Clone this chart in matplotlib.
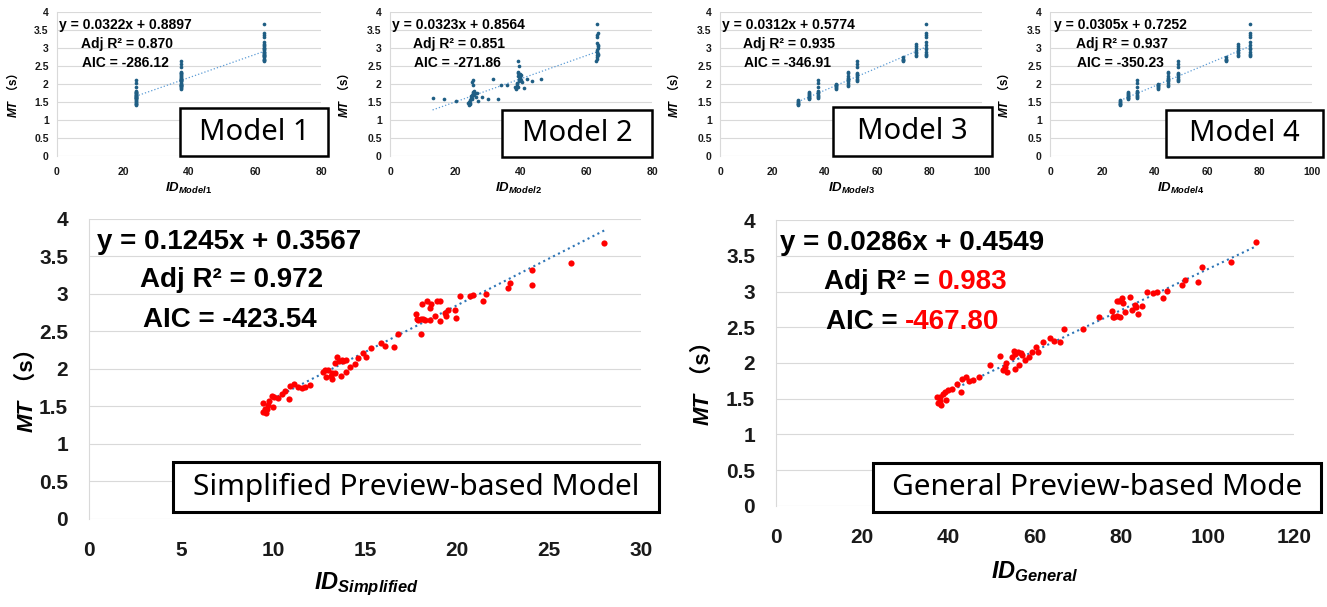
import numpy as np
import matplotlib
matplotlib.use('Agg')
import matplotlib.pyplot as plt
from matplotlib.patches import Rectangle
from matplotlib.ticker import FuncFormatter, MultipleLocator

plt.rcParams['font.family'] = ['Liberation Sans', 'Noto Sans CJK JP', 'DejaVu Sans']
plt.rcParams['mathtext.fontset'] = 'custom'
plt.rcParams['mathtext.it'] = 'Liberation Sans:italic:bold'
plt.rcParams['mathtext.rm'] = 'Liberation Sans:bold'
plt.rcParams['mathtext.bf'] = 'Liberation Sans:bold'

# MT values of the nine conditions (top panels)
mt_groups = [
    [1.41, 1.43, 1.45, 1.47, 1.49, 1.52, 1.54],
    [1.57, 1.60, 1.62, 1.64, 1.66, 1.70, 1.73, 1.76, 1.78],
    [1.60, 1.63, 1.66, 1.70, 1.75, 1.77, 1.80, 1.93, 2.02, 2.10],
    [1.86, 1.89, 1.91, 1.94, 1.96, 1.98, 2.00],
    [1.94, 1.97, 2.03, 2.07, 2.10, 2.13, 2.16, 2.22, 2.30, 2.34],
    [2.07, 2.12, 2.15, 2.20, 2.24, 2.28, 2.31, 2.47, 2.56, 2.65],
    [2.64, 2.66, 2.68, 2.71, 2.74],
    [2.79, 2.82, 2.86, 2.90, 2.94, 3.00, 3.07, 3.12],
    [2.77, 2.80, 2.84, 2.90, 2.97, 3.00, 3.08, 3.16, 3.31, 3.38, 3.43, 3.68],
]
id_model1 = [23.8, 23.8, 23.8, 37.7, 37.7, 37.7, 62.8, 62.8, 62.8]
id_model3 = [29.7, 34.0, 37.3, 44.2, 48.7, 52.2, 69.7, 74.8, 78.7]
id_model4 = [26.8, 29.9, 33.1, 41.1, 45.0, 48.7, 67.1, 71.6, 76.2]

model2_id = [13.0, 16.5, 20.2, 28.0, 29.8, 31.6, 32.9, 33.8, 35.7, 38.2, 40.8, 41.8, 43.3, 46.1,
             23.7, 24.0, 24.2, 24.3, 24.5, 24.6, 24.8, 25.0, 25.0, 25.1, 25.2, 25.3, 25.3, 25.4,
             25.5, 25.6, 25.8, 26.0, 26.3, 26.5, 26.8, 24.4, 24.9,
             38.5, 38.6, 38.7, 38.8, 38.9, 39.0, 39.1, 39.2, 39.2, 39.3, 39.4, 39.5, 39.6, 39.7,
             39.8, 39.9, 40.0, 40.2, 39.0,
             63.0, 63.1, 63.2, 63.3, 63.4, 63.2, 63.3, 63.5, 63.4, 63.5, 63.2, 63.3, 63.3, 63.4,
             63.3, 63.6, 63.1]
model2_mt = [1.62, 1.57, 1.53, 1.64, 1.57, 2.15, 1.59, 1.96, 1.98, 1.92, 1.90, 2.13, 2.09, 2.14,
             1.47, 1.42, 1.50, 1.44, 1.55, 1.60, 1.66, 1.62, 2.06, 1.70, 1.74, 2.11, 1.97, 1.78,
             1.68, 1.80, 1.72, 1.76, 1.64, 1.75, 1.53, 1.48, 1.57,
             1.86, 1.89, 1.95, 2.00, 2.04, 2.22, 2.30, 2.34, 2.65, 2.13, 2.08, 2.50, 2.20, 2.17,
             2.27, 2.10, 2.25, 2.05, 1.92,
             2.64, 2.70, 2.76, 2.80, 2.85, 2.90, 2.95, 3.00, 3.05, 3.10, 3.15, 3.30, 3.38, 3.43,
             3.68, 2.82, 2.88]

simp_id = [28.0, 26.2, 24.06, 24.06, 22.88, 22.79, 21.58, 21.43, 20.85, 20.7, 20.16, 19.93, 19.9,
           19.53, 19.4, 19.35, 19.08, 19.08, 18.9, 18.8, 18.6, 18.53, 18.53, 18.35, 18.26, 18.17,
           18.1, 18.03, 18.03, 17.9, 17.81, 17.75, 16.78, 16.58, 16.09, 15.87, 15.31, 15.05, 14.9,
           14.64, 14.46, 14.18, 13.97, 13.97, 13.73, 13.6, 13.5, 13.37, 13.68, 13.37, 13.19, 13.14,
           13.0, 12.83, 12.74, 12.88, 13.19, 12.01, 11.74, 11.56, 11.38, 11.14, 10.92, 10.89, 10.65,
           10.47, 10.29, 10.05, 9.93, 9.8, 9.98, 9.75, 9.47, 9.44, 9.62, 9.57, 9.7, 13.8]
simp_mt = [3.67, 3.41, 3.32, 3.12, 3.15, 3.08, 3.00, 2.90, 2.99, 2.97, 2.97, 2.68, 2.79,
           2.79, 2.70, 2.74, 2.90, 2.64, 2.90, 2.71, 2.86, 2.81, 2.65, 2.90, 2.65, 2.66,
           2.86, 2.67, 2.47, 2.65, 2.67, 2.73, 2.46, 2.29, 2.30, 2.34, 2.28, 2.16, 2.21,
           2.15, 2.06, 2.03, 1.96, 2.12, 2.12, 2.10, 2.16, 2.08, 1.91, 1.94, 1.94, 1.90,
           1.98, 1.99, 1.96, 1.89, 1.86, 1.78, 1.76, 1.75, 1.76, 1.80, 1.77, 1.60, 1.70,
           1.66, 1.61, 1.63, 1.64, 1.57, 1.49, 1.52, 1.54, 1.43, 1.41, 1.46, 1.47, 2.10]

gen_id = [111.3, 105.3, 98.6, 97.8, 94.7, 94.0, 90.5, 89.7, 88.2, 87.4, 85.9, 84.9, 83.9, 83.5,
          83.2, 82.4, 82.0, 80.8, 80.3, 80.1, 79.5, 79.7, 78.9, 79.1, 78.3, 78.0, 77.8, 74.9,
          71.2, 66.8, 65.8, 64.4, 63.5, 61.8, 60.8, 60.2, 59.2, 58.7, 57.7, 57.1, 56.7, 56.1,
          55.4, 55.1, 54.6, 56.4, 55.4, 53.6, 53.0, 52.7, 53.3, 51.9, 49.6, 47.1, 45.7, 44.8,
          44.0, 43.0, 42.8, 41.9, 40.7, 39.9, 39.1, 38.6, 39.4, 38.0, 37.4, 37.6, 38.2, 38.0]
gen_mt = [3.69, 3.42, 3.34, 3.13, 3.16, 3.09, 3.01, 2.91, 3.00, 2.98, 2.99, 2.80, 2.69, 2.78,
          2.81, 2.74, 2.92, 2.72, 2.84, 2.91, 2.87, 2.65, 2.66, 2.87, 2.64, 2.64, 2.73, 2.64,
          2.48, 2.47, 2.29, 2.31, 2.35, 2.29, 2.16, 2.22, 2.16, 2.09, 2.04, 2.11, 2.14, 2.16,
          2.13, 2.17, 2.09, 1.97, 1.91, 1.87, 1.95, 1.90, 2.00, 2.10, 1.97, 1.80, 1.76, 1.75,
          1.81, 1.77, 1.60, 1.71, 1.63, 1.62, 1.60, 1.57, 1.48, 1.53, 1.53, 1.44, 1.41, 1.47]

top_fits = [(0.0322, 0.8897, '0.870', '-286.12'), (0.0323, 0.8564, '0.851', '-271.86'),
            (0.0312, 0.5774, '0.935', '-346.91'), (0.0305, 0.7252, '0.937', '-350.23')]
simp_fit = (0.1245, 0.3567, '0.972', '-423.54')
gen_fit = (0.0286, 0.4549, '0.983', '-467.80')

W, H = 1327, 607
fig = plt.figure(figsize=(W / 100, H / 100), dpi=100)


def fx(px):
    return px / W


def fy(py):
    return 1 - py / H


def make_ax(l, r, t, b, xmax, xstep, tsize, xpad, ypad):
    ax = fig.add_axes([fx(l), fy(b), (r - l) / W, (b - t) / H])
    ax.set_xlim(0, xmax)
    ax.set_ylim(0, 4)
    ax.xaxis.set_major_locator(MultipleLocator(xstep))
    ax.yaxis.set_major_locator(MultipleLocator(0.5))
    ax.yaxis.set_major_formatter(FuncFormatter(lambda v, _: f'{v:g}'))
    ax.xaxis.set_major_formatter(FuncFormatter(lambda v, _: f'{v:g}'))
    ax.grid(axis='y', color='#D9D9D9', lw=0.8)
    ax.set_axisbelow(True)
    for s in ['top', 'right', 'bottom']:
        ax.spines[s].set_visible(False)
    ax.spines['left'].set_color('#D9D9D9')
    ax.spines['left'].set_linewidth(0.8)
    ax.tick_params(length=0, labelsize=tsize, colors='#1A1A1A')
    ax.tick_params(axis='x', pad=xpad)
    ax.tick_params(axis='y', pad=ypad)
    for lbl in ax.get_xticklabels() + ax.get_yticklabels():
        lbl.set_fontweight('bold')
    return ax


def fit_line(ax, xs, a, b, lw, color):
    x0, x1 = min(xs), max(xs)
    ax.plot([x0, x1], [a * x0 + b, a * x1 + b], ls=':', color=color, lw=lw, zorder=3)


def box(l, r, t, b, text, size, lw):
    fig.add_artist(Rectangle((fx(l), fy(b)), (r - l) / W, (b - t) / H, transform=fig.transFigure,
                             facecolor='white', edgecolor='black', lw=lw, zorder=5))
    fig.text(fx((l + r) / 2), fy((t + b) / 2), text, ha='center', va='center', fontsize=size,
             family=['Noto Sans'], zorder=6)


def mt_label(xb, ysplit, size):
    # "MT" in bold italic, "（s）" upright, sharing one baseline (rotated 90 degrees)
    fig.text(fx(xb), fy(ysplit), 'MT', rotation=90, rotation_mode='anchor', ha='right',
             va='baseline', fontsize=size, fontweight='bold', fontstyle='italic')
    fig.text(fx(xb), fy(ysplit), ' （s）', rotation=90, rotation_mode='anchor', ha='left',
             va='baseline', fontsize=size, fontweight='bold',
             family=['Liberation Sans', 'Noto Sans CJK JP'])


def annot(x1, x2, x3, y1, y2, y3, fit, size, red=False):
    a, b, r2, aic = fit
    fig.text(fx(x1), fy(y1), f'y = {a:.4f}x + {b:.4f}', fontsize=size, fontweight='bold',
             ha='left', va='center')
    if not red:
        fig.text(fx(x2), fy(y2), f'Adj R² = {r2}', fontsize=size, fontweight='bold',
                 ha='left', va='center')
        fig.text(fx(x3), fy(y3), f'AIC = {aic}', fontsize=size, fontweight='bold',
                 ha='left', va='center')
    else:
        t1 = fig.text(fx(x2), fy(y2), 'Adj R² = ', fontsize=size, fontweight='bold',
                      ha='left', va='center')
        plt.annotate(r2, xy=(1, 0), xycoords=t1, ha='left', va='bottom', fontsize=size,
                     fontweight='bold', color='#FF0000', annotation_clip=False)
        t2 = fig.text(fx(x3), fy(y3), 'AIC = ', fontsize=size, fontweight='bold',
                      ha='left', va='center')
        plt.annotate(aic, xy=(1, 0), xycoords=t2, ha='left', va='bottom', fontsize=size,
                     fontweight='bold', color='#FF0000', annotation_clip=False)


dot_color = '#1F5E84'
top_line = '#5B9BD5'

# ---- top row ----
top_specs = [
    (57, 321, 80, 20, id_model1, 'Model1', 17, 188, 'Model 1', (180, 328, 108, 156),
     (59, 81, 82)),
    (390, 652, 80, 20, None, 'Model2', 348, 518, 'Model 2', (502, 652, 110, 157),
     (392, 413, 414)),
    (720, 982, 100, 20, id_model3, 'Model3', 678, 851, 'Model 3', (833, 992, 107, 156),
     (722, 743, 744)),
    (1050, 1312, 100, 20, id_model4, 'Model4', 1008, 1181, 'Model 4', (1166, 1323, 110, 157),
     (1054, 1076, 1077)),
]
for i, (l, r, xmax, xstep, ids, sub, ylx, xlx, name, bx, ax_x) in enumerate(top_specs):
    ax = make_ax(l, r, 12.3, 155.7, xmax, xstep, 7.5, 8, 6)
    if ids is None:
        xs, ys = model2_id, model2_mt
    else:
        xs = [ids[k] for k, g in enumerate(mt_groups) for _ in g]
        ys = [v for g in mt_groups for v in g]
    ax.scatter(xs, ys, s=7, color=dot_color, lw=0, zorder=4)
    a, b = top_fits[i][0], top_fits[i][1]
    fit_line(ax, xs, a, b, 0.9, top_line)
    mt_label(ylx, 100, 8.5)
    fig.text(fx(xlx), fy(188), f'$ID_{{{sub}}}$', ha='center', va='center', fontsize=9.5)
    box(*bx, name, 21, 1.8)
    annot(ax_x[0], ax_x[1], ax_x[2], 25, 44, 63, top_fits[i], 10)

# ---- bottom left ----
ax = make_ax(89, 641, 218.7, 519, 30, 5, 15, 16, 15)
ax.scatter(simp_id, simp_mt, s=20, color='#FF0000', lw=0, zorder=4)
fit_line(ax, simp_id, simp_fit[0], simp_fit[1], 1.5, '#2E75B6')
mt_label(33, 400, 16)
fig.text(fx(366), fy(584), '$ID_{Simplified}$', ha='center', va='center', fontsize=17)
box(173, 659, 462, 512, 'Simplified Preview-based Model', 21.5, 2.2)
annot(97, 140, 143, 242, 280, 320, simp_fit, 20)

# ---- bottom right ----
ax = make_ax(776, 1294, 220.3, 505.7, 120, 20, 15, 16, 15)
ax.scatter(gen_id, gen_mt, s=20, color='#FF0000', lw=0, zorder=4)
fit_line(ax, gen_id, gen_fit[0], gen_fit[1], 1.5, '#2E75B6')
mt_label(709, 393, 16)
fig.text(fx(1035), fy(572), '$ID_{General}$', ha='center', va='center', fontsize=17)
box(873, 1321, 463, 512, 'General Preview-based Mode', 21.5, 2.2)
annot(780, 824, 826, 243, 282, 322, gen_fit, 20, red=True)

fig.savefig('out.png', dpi=100)
